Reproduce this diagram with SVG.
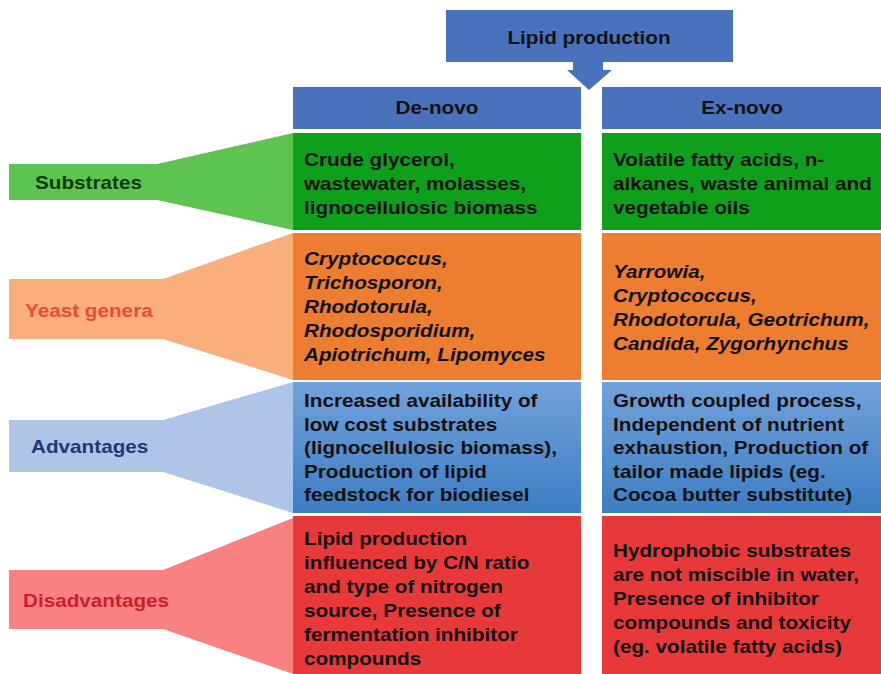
<svg xmlns="http://www.w3.org/2000/svg" width="881" height="674" viewBox="0 0 881 674">
<style>
text{font-family:"Liberation Sans",Arial,sans-serif;font-weight:bold;font-size:17.7px;fill:#111}
.it{font-style:italic}
.c{text-anchor:middle}
.hdr{fill:#4a72bc}
</style>
<defs>
<linearGradient id="bl" x1="0" y1="0" x2="0" y2="1"><stop offset="0" stop-color="#72a2da"/><stop offset="1" stop-color="#3d7dc3"/></linearGradient>
</defs>
<rect width="881" height="674" fill="#fff"/>
<g id="connectors">
<polygon id="arrow" class="hdr" points="573,60 603,60 603,70 612,70 589,90 567,70 573,70"/>
</g>
<g id="lipid-production">
<rect class="hdr" x="446" y="10" width="287" height="52"/>
<text class="c" transform="translate(589,0) scale(1.17,1)" x="0" y="44">Lipid production</text>
</g>
<g id="de-novo">
<rect class="hdr" x="293" y="87" width="288" height="42"/>
<text class="c" transform="translate(437,0) scale(1.17,1)" x="0" y="114">De-novo</text>
</g>
<g id="ex-novo">
<rect class="hdr" x="602" y="87" width="279" height="42"/>
<text class="c" transform="translate(742,0) scale(1.17,1)" x="0" y="114">Ex-novo</text>
</g>
<g id="substrates-label">
<polygon points="9,164 157,164 293,133 293,230 157,200 9,200" fill="#5cc44f"/>
<text transform="translate(35,0) scale(1.17,1)" x="0" y="189" style="fill:#0c3a10">Substrates</text>
</g>
<g id="yeast-label">
<polygon points="9,279 163,279 293,233 293,380 163,339 9,339" fill="#f9ae7b"/>
<text transform="translate(25,0) scale(1.17,1)" x="0" y="317" style="fill:#e84b3a">Yeast genera</text>
</g>
<g id="advantages-label">
<polygon points="9,420 163,420 293,382 293,513 163,472 9,472" fill="#aec5e7"/>
<text transform="translate(31,0) scale(1.17,1)" x="0" y="453" style="fill:#1f3775">Advantages</text>
</g>
<g id="disadvantages-label">
<polygon points="9,570 163,570 293,518 293,674 163,629 9,629" fill="#f98181"/>
<text transform="translate(23,0) scale(1.17,1)" x="0" y="607" style="fill:#c8202b">Disadvantages</text>
</g>
<g id="substrates-denovo">
<rect x="293" y="133" width="288" height="97" fill="#0fa01b"/>
<text transform="translate(304,0) scale(1.17,1)"><tspan x="0" y="166">Crude glycerol,</tspan><tspan x="0" y="190">wastewater, molasses,</tspan><tspan x="0" y="214">lignocellulosic biomass</tspan></text>
</g>
<g id="substrates-exnovo">
<rect x="602" y="133" width="279" height="97" fill="#0fa01b"/>
<text transform="translate(613,0) scale(1.17,1)"><tspan x="0" y="166">Volatile fatty acids, n-</tspan><tspan x="0" y="190">alkanes, waste animal and</tspan><tspan x="0" y="214">vegetable oils</tspan></text>
</g>
<g id="yeast-denovo">
<rect x="293" y="233" width="288" height="147" fill="#ed7d31"/>
<text class="it" transform="translate(304,0) scale(1.17,1)"><tspan x="0" y="265">Cryptococcus,</tspan><tspan x="0" y="289">Trichosporon,</tspan><tspan x="0" y="313">Rhodotorula,</tspan><tspan x="0" y="337">Rhodosporidium,</tspan><tspan x="0" y="361">Apiotrichum, Lipomyces</tspan></text>
</g>
<g id="yeast-exnovo">
<rect x="602" y="233" width="279" height="147" fill="#ed7d31"/>
<text class="it" transform="translate(613,0) scale(1.17,1)"><tspan x="0" y="278">Yarrowia,</tspan><tspan x="0" y="302">Cryptococcus,</tspan><tspan x="0" y="326">Rhodotorula, Geotrichum,</tspan><tspan x="0" y="350">Candida, Zygorhynchus</tspan></text>
</g>
<g id="advantages-denovo">
<rect x="293" y="382" width="288" height="131" fill="url(#bl)"/>
<text transform="translate(304,0) scale(1.17,1)"><tspan x="0" y="407">Increased availability of</tspan><tspan x="0" y="431">low cost substrates</tspan><tspan x="0" y="454">(lignocellulosic biomass),</tspan><tspan x="0" y="478">Production of lipid</tspan><tspan x="0" y="501">feedstock for biodiesel</tspan></text>
</g>
<g id="advantages-exnovo">
<rect x="602" y="382" width="279" height="131" fill="url(#bl)"/>
<text transform="translate(613,0) scale(1.17,1)"><tspan x="0" y="407">Growth coupled process,</tspan><tspan x="0" y="431">Independent of nutrient</tspan><tspan x="0" y="454">exhaustion, Production of</tspan><tspan x="0" y="478">tailor made lipids (eg.</tspan><tspan x="0" y="501">Cocoa butter substitute)</tspan></text>
</g>
<g id="disadvantages-denovo">
<rect x="293" y="516" width="288" height="158" fill="#e8393a"/>
<text transform="translate(304,0) scale(1.17,1)"><tspan x="0" y="545">Lipid production</tspan><tspan x="0" y="569">influenced by C/N ratio</tspan><tspan x="0" y="593">and type of nitrogen</tspan><tspan x="0" y="617">source, Presence of</tspan><tspan x="0" y="641">fermentation inhibitor</tspan><tspan x="0" y="665">compounds</tspan></text>
</g>
<g id="disadvantages-exnovo">
<rect x="602" y="516" width="279" height="158" fill="#e8393a"/>
<text transform="translate(613,0) scale(1.17,1)"><tspan x="0" y="557">Hydrophobic substrates</tspan><tspan x="0" y="581">are not miscible in water,</tspan><tspan x="0" y="605">Presence of inhibitor</tspan><tspan x="0" y="629">compounds and toxicity</tspan><tspan x="0" y="653">(eg. volatile fatty acids)</tspan></text>
</g>
</svg>
